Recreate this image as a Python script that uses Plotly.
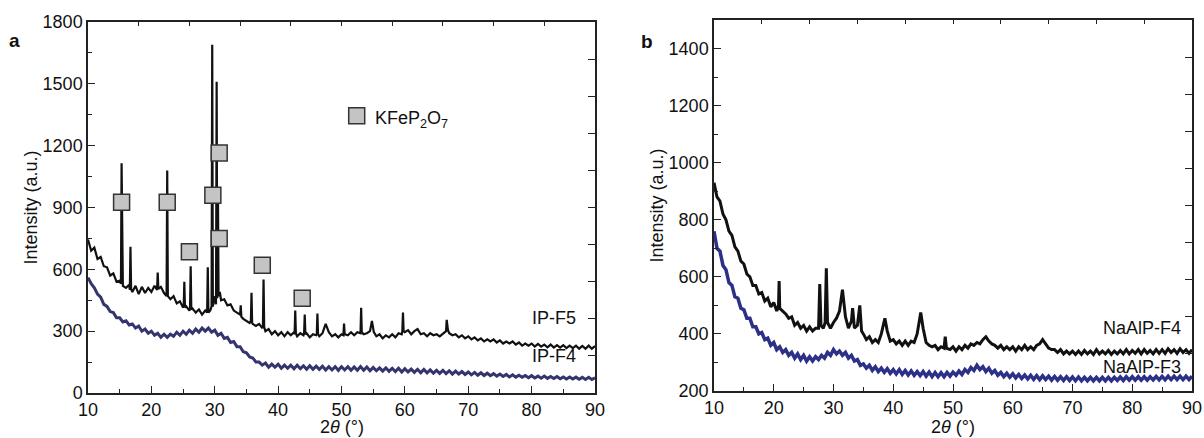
import plotly.graph_objects as go

# ---- panel a : IP-F5 (black) ----
a_f5_x = [10.0, 10.5, 11.0, 11.5, 12.0, 12.5, 13.0, 13.5, 14.0, 14.5,
          15.0, 15.2, 15.3, 15.4, 15.5, 16.0, 16.5, 16.6, 16.7, 16.8,
          17.0, 17.5, 18.0, 18.5, 19.0, 19.5, 20.0, 20.5, 20.9, 21.0,
          21.1, 21.5, 22.0, 22.4, 22.5, 22.6, 23.0, 23.5, 24.0, 24.5,
          25.0, 25.1, 25.2, 25.3, 25.5, 26.0, 26.1, 26.2, 26.3, 26.5,
          27.0, 27.5, 28.0, 28.5, 28.8, 28.9, 29.0, 29.3, 29.5, 29.6,
          29.7, 30.0, 30.2, 30.3, 30.4, 30.5, 30.6, 30.8, 31.0, 31.5,
          32.0, 32.5, 33.0, 33.5, 34.0, 34.1, 34.2, 34.5, 35.0, 35.5,
          35.7, 35.8, 35.9, 36.0, 36.5, 37.0, 37.5, 37.6, 37.7, 37.8,
          38.0, 38.5, 39.0, 39.5, 40.0, 40.5, 41.0, 41.5, 42.0, 42.5,
          42.6, 42.7, 42.8, 43.0, 43.5, 44.0, 44.1, 44.2, 44.3, 44.5,
          45.0, 45.5, 46.0, 46.1, 46.2, 46.3, 46.5, 47.0, 47.5, 48.0,
          48.5, 49.0, 49.5, 50.0, 50.3, 50.4, 50.5, 51.0, 51.5, 52.0,
          52.5, 53.0, 53.1, 53.2, 53.5, 54.0, 54.5, 54.8, 55.1, 55.5,
          56.0, 56.5, 57.0, 57.5, 58.0, 58.5, 59.0, 59.5, 59.6, 59.7,
          59.8, 60.0, 60.5, 61.0, 61.5, 62.0, 62.5, 63.0, 63.5, 64.0,
          64.5, 65.0, 65.5, 66.0, 66.5, 66.6, 66.8, 67.0, 67.5, 68.0,
          68.5, 69.0, 69.5, 70.0, 70.5, 71.0, 71.5, 72.0, 72.5, 73.0,
          73.5, 74.0, 74.5, 75.0, 75.5, 76.0, 76.5, 77.0, 77.5, 78.0,
          78.5, 79.0, 79.5, 80.0, 80.5, 81.0, 81.5, 82.0, 82.5, 83.0,
          83.5, 84.0, 84.5, 85.0, 85.5, 86.0, 86.5, 87.0, 87.5, 88.0,
          88.5, 89.0, 89.5, 90.0]
a_f5_y = [745, 690, 705, 650, 660, 615, 610, 570, 580, 540,
          545, 530, 1115, 740, 520, 510, 525, 500, 710, 505,
          490, 520, 480, 515, 485, 510, 490, 520, 500, 585,
          505, 515, 485, 470, 1080, 470, 455, 470, 435, 445,
          415, 420, 540, 415, 420, 400, 410, 615, 405, 410,
          390, 405, 380, 400, 390, 610, 390, 400, 420, 1690,
          420, 470, 430, 1510, 460, 1000, 470, 490, 450, 455,
          425, 430, 400, 390, 380, 425, 370, 360, 350, 340,
          350, 486, 340, 335, 325, 335, 315, 325, 551, 320,
          300, 310, 285, 300, 280, 295, 275, 295, 280, 295,
          285, 400, 290, 275, 290, 280, 290, 381, 285, 290,
          270, 285, 280, 285, 386, 285, 275, 290, 335, 295,
          275, 285, 270, 285, 280, 337, 285, 280, 295, 280,
          295, 290, 413, 295, 285, 290, 300, 350, 295, 275,
          285, 265, 280, 270, 285, 270, 290, 285, 300, 390,
          300, 295, 305, 285, 300, 310, 285, 290, 275, 290,
          280, 285, 275, 290, 300, 355, 305, 290, 280, 285,
          270, 280, 265, 275, 260, 270, 255, 265, 250, 260,
          250, 260, 245, 255, 240, 250, 240, 250, 235, 245,
          230, 240, 230, 240, 225, 238, 225, 235, 222, 235,
          220, 232, 220, 232, 218, 230, 218, 230, 215, 228,
          215, 230, 215, 228]

# ---- panel a : IP-F4 (blue), 0.5 deg steps from 10 to 90 ----
grid_x = [10 + 0.5 * i for i in range(161)]
a_f4_y = [560, 530, 510, 480, 465, 430, 420, 395, 390, 365,
          365, 345, 350, 330, 335, 315, 325, 300, 310, 290,
          300, 280, 290, 270, 285, 270, 285, 275, 295, 280,
          300, 285, 305, 290, 310, 295, 315, 300, 315, 295,
          305, 280, 290, 265, 270, 245, 250, 225, 225, 200,
          195, 175, 170, 150, 150, 135, 145, 125, 140, 125,
          140, 120, 135, 120, 135, 118, 135, 118, 132, 115,
          132, 115, 130, 115, 130, 112, 128, 112, 128, 110,
          128, 112, 128, 110, 126, 110, 128, 110, 126, 108,
          124, 108, 122, 106, 122, 105, 120, 104, 120, 102,
          118, 102, 116, 100, 115, 98, 114, 98, 112, 96,
          110, 95, 110, 94, 108, 92, 106, 92, 104, 90,
          102, 88, 100, 86, 98, 85, 96, 84, 94, 82,
          92, 80, 90, 78, 88, 77, 86, 76, 85, 74,
          84, 73, 82, 72, 82, 71, 80, 70, 80, 69,
          78, 68, 78, 68, 77, 67, 76, 66, 76, 66,
          74]

# ---- panel b : NaAlP-F4 (black) ----
b_f4_x = [10.0, 10.5, 11.0, 11.5, 12.0, 12.5, 13.0, 13.5, 14.0, 14.5,
          15.0, 15.5, 16.0, 16.5, 17.0, 17.5, 18.0, 18.5, 19.0, 19.5,
          20.0, 20.5, 20.8, 20.9, 21.0, 21.5, 22.0, 22.5, 23.0, 23.5,
          24.0, 24.5, 25.0, 25.5, 26.0, 26.5, 27.0, 27.5, 27.7, 27.9,
          28.3, 28.6, 28.8, 29.0, 29.5, 30.0, 30.5, 31.0, 31.5, 32.0,
          32.5, 33.0, 33.2, 33.5, 34.0, 34.4, 34.7, 35.0, 35.5, 36.0,
          36.5, 37.0, 37.5, 38.0, 38.6, 39.0, 39.5, 40.0, 40.5, 41.0,
          41.5, 42.0, 42.5, 43.0, 43.5, 44.0, 44.6, 45.0, 45.5, 46.0,
          46.5, 47.0, 47.5, 48.0, 48.5, 48.7, 48.9, 49.5, 50.0, 50.5,
          51.0, 51.5, 52.0, 52.5, 53.0, 53.5, 54.0, 54.5, 55.0, 55.5,
          56.0, 56.5, 57.0, 57.5, 58.0, 58.5, 59.0, 59.5, 60.0, 60.5,
          61.0, 61.5, 62.0, 62.5, 63.0, 63.5, 64.0, 64.5, 65.0, 65.5,
          66.0, 66.5, 67.0, 67.5, 68.0, 68.5, 69.0, 69.5, 70.0, 70.5,
          71.0, 71.5, 72.0, 72.5, 73.0, 73.5, 74.0, 74.5, 75.0, 75.5,
          76.0, 76.5, 77.0, 77.5, 78.0, 78.5, 79.0, 79.5, 80.0, 80.5,
          81.0, 81.5, 82.0, 82.5, 83.0, 83.5, 84.0, 84.5, 85.0, 85.5,
          86.0, 86.5, 87.0, 87.5, 88.0, 88.5, 89.0, 89.5, 90.0]
b_f4_y = [930, 880, 865, 820, 800, 760, 745, 705, 690, 655,
          645, 610, 600, 570, 570, 540, 545, 515, 525, 495,
          510, 480, 500, 585, 490, 480, 470, 455, 460, 430,
          440, 420, 430, 410, 425, 410, 420, 420, 575, 430,
          420, 440, 630, 440, 420, 440, 455, 480, 555, 460,
          420, 445, 490, 420, 430, 500, 410, 400, 380, 390,
          370, 380, 370, 400, 455, 410, 375, 380, 365, 375,
          360, 375, 360, 375, 370, 400, 475, 420, 370, 360,
          355, 360, 345, 355, 350, 390, 350, 345, 355, 340,
          355, 345, 360, 350, 365, 360, 370, 365, 380, 390,
          375, 365, 360, 350, 360, 345, 355, 345, 355, 340,
          355, 345, 360, 345, 355, 345, 360, 365, 380, 365,
          350, 345, 345, 335, 345, 330, 340, 330, 340, 328,
          340, 328, 342, 330, 340, 328, 345, 330, 340, 330,
          342, 328, 340, 330, 342, 330, 345, 330, 342, 332,
          345, 330, 345, 332, 342, 330, 345, 332, 345, 332,
          348, 335, 345, 332, 348, 335, 345, 332, 345]

# ---- panel b : NaAlP-F3 (blue), 0.5 deg steps ----
b_f3_y = [760, 700, 690, 640, 625, 580, 570, 530, 525, 490,
          485, 455, 455, 425, 425, 400, 405, 380, 385, 360,
          370, 345, 355, 335, 345, 325, 335, 315, 330, 310,
          325, 305, 320, 305, 320, 310, 325, 315, 335, 325,
          345, 330, 340, 325, 335, 315, 325, 305, 310, 290,
          295, 280, 290, 272, 285, 268, 280, 265, 278, 262,
          275, 260, 275, 258, 272, 256, 270, 255, 268, 254,
          268, 252, 266, 250, 265, 250, 264, 250, 265, 252,
          266, 255, 270, 258, 275, 265, 282, 272, 290, 275,
          285, 268, 280, 262, 272, 255, 265, 250, 262, 248,
          260, 246, 258, 244, 256, 242, 255, 241, 254, 240,
          253, 240, 252, 238, 251, 238, 250, 237, 250, 237,
          249, 236, 249, 236, 248, 236, 248, 236, 248, 236,
          248, 236, 248, 236, 248, 237, 249, 237, 250, 238,
          250, 238, 250, 238, 250, 238, 250, 239, 251, 239,
          251, 239, 252, 240, 252, 240, 252, 240, 252, 240,
          252]

# KFeP2O7 reflections marked with squares (panel a)
kfep_x = [15.3, 22.5, 26.0, 29.7, 30.7, 30.7, 37.5, 43.8]
kfep_y = [925, 925, 685, 960, 1165, 750, 620, 460]

BLACK = "#111111"
BLUE_A = "#35356e"
BLUE_B = "#2c3086"
FONT = "Liberation Sans, Arial, sans-serif"

W, H = 1204, 438


def px(x):
    return x / W


def py(y):
    return 1 - y / H


fig = go.Figure()

fig.add_trace(go.Scatter(x=grid_x, y=a_f4_y, mode="lines",
                         line=dict(color=BLUE_A, width=3), xaxis="x", yaxis="y"))
fig.add_trace(go.Scatter(x=a_f5_x, y=a_f5_y, mode="lines",
                         line=dict(color=BLACK, width=2.2), xaxis="x", yaxis="y"))
fig.add_trace(go.Scatter(x=kfep_x, y=kfep_y, mode="markers",
                         marker=dict(symbol="square", size=16, color="#c4c4c4",
                                     line=dict(color="#333333", width=1.5)),
                         xaxis="x", yaxis="y"))
# legend square
fig.add_trace(go.Scatter(x=[52.4], y=[1345], mode="markers",
                         marker=dict(symbol="square", size=16, color="#c4c4c4",
                                     line=dict(color="#333333", width=1.5)),
                         xaxis="x", yaxis="y"))

fig.add_trace(go.Scatter(x=grid_x, y=b_f3_y, mode="lines",
                         line=dict(color=BLUE_B, width=3.5), xaxis="x2", yaxis="y2"))
fig.add_trace(go.Scatter(x=b_f4_x, y=b_f4_y, mode="lines",
                         line=dict(color=BLACK, width=3), xaxis="x2", yaxis="y2"))

# invisible traces so the top/right frame axes get drawn
fig.add_trace(go.Scatter(x=[None], y=[None], xaxis="x3", yaxis="y3", showlegend=False))
fig.add_trace(go.Scatter(x=[None], y=[None], xaxis="x4", yaxis="y4", showlegend=False))

ax_common = dict(showline=True, linecolor="#222222", linewidth=1.5, ticks="inside",
                 tickcolor="#222222", tickwidth=1.2, showgrid=False, zeroline=False,
                 automargin=False,
                 tickfont=dict(family=FONT, size=18, color="#111111"))

dom_xa = [px(88), px(595)]
dom_xb = [px(714), px(1192)]
dom_ya = [py(393), py(22)]
dom_yb = [py(391), py(20)]

fig.update_layout(
    template="none",
    width=W, height=H,
    margin=dict(l=0, r=0, t=0, b=0, autoexpand=False),
    paper_bgcolor="white", plot_bgcolor="white",
    showlegend=False,
    font=dict(family=FONT, color="#111111"),
    xaxis=dict(domain=dom_xa, range=[10, 90], anchor="y", dtick=10, tick0=10, ticklen=7,
               minor=dict(ticks="inside", dtick=5, ticklen=4, tickcolor="#222222"),
               **ax_common),
    yaxis=dict(domain=dom_ya, range=[0, 1800], anchor="x", dtick=300, tick0=0, ticklen=7,
               minor=dict(ticks="inside", dtick=150, ticklen=4, tickcolor="#222222"),
               **ax_common),
    xaxis3=dict(domain=dom_xa, range=[10, 90], overlaying="x", side="top", anchor="y",
                dtick=8, tick0=10, ticklen=4, showticklabels=False, **ax_common),
    yaxis3=dict(domain=dom_ya, range=[0, 1800], overlaying="y", side="right", anchor="x",
                dtick=180, tick0=0, ticklen=7, showticklabels=False, **ax_common),
    xaxis2=dict(domain=dom_xb, range=[10, 90], anchor="y2", dtick=10, tick0=10, ticklen=7,
                minor=dict(ticks="inside", dtick=5, ticklen=4, tickcolor="#222222"),
                **ax_common),
    yaxis2=dict(domain=dom_yb, range=[200, 1500], anchor="x2", dtick=200, tick0=200,
                ticklen=7,
                minor=dict(ticks="inside", dtick=100, ticklen=4, tickcolor="#222222"),
                **ax_common),
    xaxis4=dict(domain=dom_xb, range=[10, 90], overlaying="x2", side="top", anchor="y2",
                dtick=8, tick0=10, ticklen=4, showticklabels=False, **ax_common),
    yaxis4=dict(domain=dom_yb, range=[200, 1500], overlaying="y2", side="right", anchor="x2",
                dtick=130, tick0=200, ticklen=7, showticklabels=False, **ax_common),
)

txt = dict(family=FONT, size=18, color="#111111")
annotations = [
    dict(text="<b>a</b>", x=px(14), y=py(40), xref="paper", yref="paper",
         showarrow=False, font=dict(family=FONT, size=19), xanchor="center", yanchor="middle"),
    dict(text="<b>b</b>", x=px(647), y=py(42), xref="paper", yref="paper",
         showarrow=False, font=dict(family=FONT, size=19), xanchor="center", yanchor="middle"),
    dict(text="Intensity (a.u.)", x=px(30), y=(dom_ya[0] + dom_ya[1]) / 2,
         xref="paper", yref="paper", textangle=-90, showarrow=False, font=txt,
         xanchor="center", yanchor="middle"),
    dict(text="Intensity (a.u.)", x=px(656), y=(dom_yb[0] + dom_yb[1]) / 2,
         xref="paper", yref="paper", textangle=-90, showarrow=False, font=txt,
         xanchor="center", yanchor="middle"),
    dict(text="2<i>θ</i> (°)", x=50, y=py(427), xref="x", yref="paper",
         showarrow=False, font=txt, xanchor="center", yanchor="middle"),
    dict(text="2<i>θ</i> (°)", x=50, y=py(427), xref="x2", yref="paper",
         showarrow=False, font=txt, xanchor="center", yanchor="middle"),
    dict(text="KFeP<sub>2</sub>O<sub>7</sub>", x=55.0, y=1325, xref="x", yref="y",
         showarrow=False, font=txt, xanchor="left", yanchor="middle"),
    dict(text="IP-F5", x=87.3, y=365, xref="x", yref="y",
         showarrow=False, font=txt, xanchor="right", yanchor="middle"),
    dict(text="IP-F4", x=87.3, y=180, xref="x", yref="y",
         showarrow=False, font=txt, xanchor="right", yanchor="middle"),
    dict(text="NaAlP-F4", x=88.5, y=420, xref="x2", yref="y2",
         showarrow=False, font=txt, xanchor="right", yanchor="middle"),
    dict(text="NaAlP-F3", x=88.5, y=284, xref="x2", yref="y2",
         showarrow=False, font=txt, xanchor="right", yanchor="middle"),
]
fig.update_layout(annotations=annotations)

# drop the default page margin so the figure fills the window exactly
fig.write_html("out.html",
               config={"displayModeBar": False},
               post_script="document.body.style.margin='0';"
                           "document.body.style.overflow='hidden';")
